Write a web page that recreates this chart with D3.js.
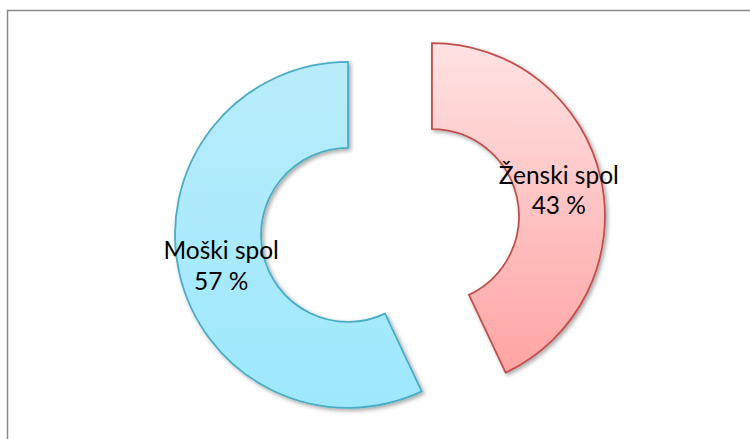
<!DOCTYPE html>
<html><head><meta charset="utf-8">
<script src="https://cdn.jsdelivr.net/npm/d3@7"></script>
<style>html,body{margin:0;padding:0;background:#fff;overflow:hidden}</style>
</head><body>
<svg id="c" width="750" height="439"></svg>
<script>
const categories = ["Ženski spol", "Moški spol"];
const values = [43, 57];
const labelTexts = ["43 %", "57 %"];

const W = 750, H = 439;
const svg = d3.select("#c");
const defs = svg.append("defs");

const fills = [
  {id: "gF", top: "#ffe2e2", bottom: "#ffa4a4", stroke: "#c0504d"},
  {id: "gM", top: "#b9ecfb", bottom: "#9de8fd", stroke: "#4bacc6"}
];
fills.forEach(f => {
  const g = defs.append("linearGradient").attr("id", f.id)
    .attr("x1", 0).attr("y1", 0).attr("x2", 0).attr("y2", 1);
  g.append("stop").attr("offset", "0%").attr("stop-color", f.top);
  g.append("stop").attr("offset", "100%").attr("stop-color", f.bottom);
});
const flt = defs.append("filter").attr("id", "sh")
  .attr("x", "-20%").attr("y", "-20%").attr("width", "140%").attr("height", "140%");
flt.append("feGaussianBlur").attr("in", "SourceAlpha").attr("stdDeviation", 2).attr("result", "b");
flt.append("feOffset").attr("in", "b").attr("dx", 2).attr("dy", 2).attr("result", "o");
flt.append("feComponentTransfer").attr("in", "o").attr("result", "oa")
  .append("feFuncA").attr("type", "linear").attr("slope", 0.35);
const m = flt.append("feMerge");
m.append("feMergeNode").attr("in", "oa");
m.append("feMergeNode").attr("in", "SourceGraphic");

// frame
svg.append("rect").attr("x", 7.5).attr("y", 10.5).attr("width", 760).attr("height", 440)
  .attr("fill", "none").attr("stroke", "#8a8a8a").attr("stroke-width", 1.5);

const cx = 390, cy = 225.5;
const outerR = 173, innerR = 87, explode = 43;

const pie = d3.pie().sort(null).value(d => d);
const arcs = pie(values);
const arc = d3.arc().innerRadius(innerR).outerRadius(outerR);

const g = svg.append("g").attr("transform", `translate(${cx},${cy})`);
arcs.forEach((a, i) => {
  const mid = (a.startAngle + a.endAngle) / 2;
  const dx = explode * Math.sin(mid), dy = -explode * Math.cos(mid);
  const sg = g.append("g").attr("transform", `translate(${dx},${dy})`);
  sg.append("path").attr("d", arc(a))
    .attr("fill", `url(#${fills[i].id})`)
    .attr("stroke", fills[i].stroke).attr("stroke-width", 1.8)
    .attr("stroke-linejoin", "miter")
    .attr("filter", "url(#sh)");
  const [lx, ly] = arc.centroid(a);
  const t = sg.append("text").attr("text-anchor", "middle")
    .attr("font-family", "Lato, 'Open Sans', sans-serif").attr("font-size", 24.5)
    .attr("fill", "#000");
  t.append("tspan").attr("x", lx).attr("y", ly - 4).text(categories[i]);
  t.append("tspan").attr("x", lx).attr("y", ly + 26.5).text(labelTexts[i]);
});
</script>
</body></html>
